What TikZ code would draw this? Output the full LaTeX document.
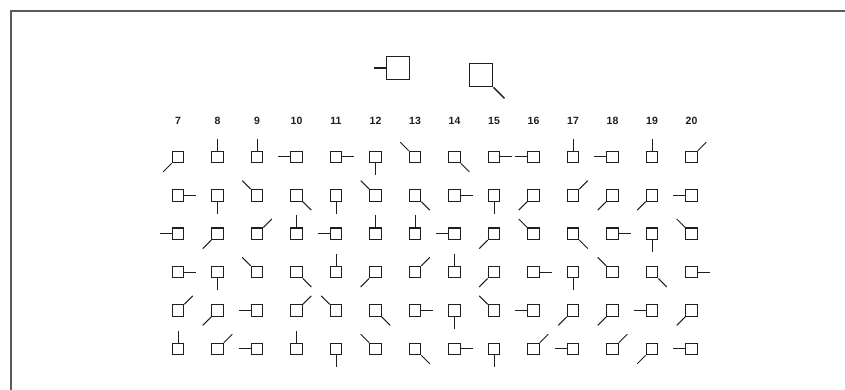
\documentclass[tikz,border=0pt]{standalone}
\usepackage{fontspec}
\setmainfont{Liberation Sans}
\usetikzlibrary{positioning}
\definecolor{framegray}{HTML}{5A5A5A}
\definecolor{inkgray}{HTML}{1E1E1E}
\tikzset{
  cell/.style={rectangle, draw=inkgray, minimum size=11.5pt, inner sep=0pt, line width=1.1pt},
  bigcell/.style={rectangle, draw=inkgray, minimum size=23pt, inner sep=0pt, line width=1.8pt},
  tail/.style={draw=inkgray, line width=1pt},
  colnum/.style={font=\bfseries\fontsize{10.5}{11}\selectfont, inner sep=0pt, text=inkgray},
}
\begin{document}
\begin{tikzpicture}[x=1pt,y=1pt]
  \useasboundingbox (0,0) rectangle (845,390);
  \coordinate (fbl) at (11,0);
  \coordinate (ftl) at (11,379);
  \coordinate (ftr) at (845,379);
  \draw[framegray, line width=1.5pt] (fbl) -- (ftl) -- (ftr);
  \node[bigcell] (keyw) at (398,322) {};
  \node[bigcell] (keyse) at (481,315) {};
  \coordinate[left=12pt of keyw.west] (keywt);
  \coordinate[below right=11pt and 11pt of keyse.south east] (keyset);
  \draw[tail, line width=1.6pt] (keyw.west) -- (keywt);
  \draw[tail, line width=1.4pt] (keyse.south east) -- (keyset);
  \foreach \n [count=\i] in {7,...,20}
    \node[colnum] (num\n) at ({178+39.5*(\i-1)},269) {\n};
  \foreach \row [count=\j] in {
      {225,90,90,180,0,270,135,315,0,180,90,180,90,45},
      {0,270,135,315,270,135,315,0,270,225,45,225,225,180},
      {180,225,45,90,180,90,90,180,225,135,315,0,270,135},
      {0,270,135,315,90,225,45,90,225,0,270,135,315,0},
      {45,225,180,45,135,315,0,270,135,180,225,225,180,225},
      {90,45,180,90,270,135,315,0,270,45,180,45,225,180}} {
    \foreach \a [count=\i] in \row {
      \node[cell] (c\j-\i) at ({178+39.5*(\i-1)},{233-38.4*(\j-1)}) {};
      \path (c\j-\i.\a) ++(\a:12) coordinate (t\j-\i);
      \draw[tail] (c\j-\i.\a) -- (t\j-\i);
    }
  }
\end{tikzpicture}
\end{document}
